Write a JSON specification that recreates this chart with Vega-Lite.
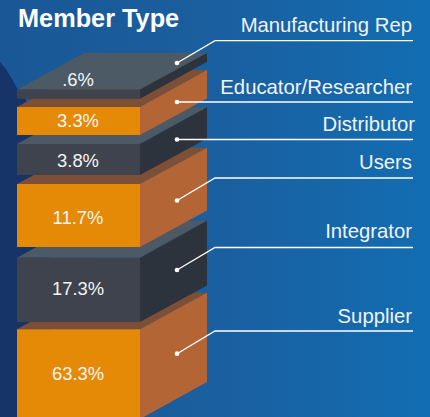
{"$schema":"https://vega.github.io/schema/vega-lite/v6.json","width":430,"height":417,"padding":0,"autosize":{"type":"fit","contains":"padding"},"config":{"view":{"stroke":null},"font":"Liberation Sans"},"datasets":{"faces":[
{"member":"Supplier","shade":"orange top","x":17,"top":329.3,"bottom":329.3},{"member":"Supplier","shade":"orange top","x":84,"top":292.7,"bottom":329.3},{"member":"Supplier","shade":"orange top","x":140,"top":292.7,"bottom":329.3},{"member":"Supplier","shade":"orange top","x":207,"top":292.7,"bottom":292.7},
{"member":"Supplier","shade":"orange side","x":140,"top":329.3,"bottom":419},{"member":"Supplier","shade":"orange side","x":207,"top":292.7,"bottom":382},
{"member":"Supplier","shade":"orange front","x":17,"top":329.3,"bottom":419},{"member":"Supplier","shade":"orange front","x":140,"top":329.3,"bottom":419},
{"member":"Integrator","shade":"dark top","x":17,"top":257.7,"bottom":257.7},{"member":"Integrator","shade":"dark top","x":84,"top":220.7,"bottom":257.7},{"member":"Integrator","shade":"dark top","x":140,"top":220.7,"bottom":257.7},{"member":"Integrator","shade":"dark top","x":207,"top":220.7,"bottom":220.7},
{"member":"Integrator","shade":"dark side","x":140,"top":257.7,"bottom":322},{"member":"Integrator","shade":"dark side","x":207,"top":220.7,"bottom":285.4},
{"member":"Integrator","shade":"dark front","x":17,"top":257.7,"bottom":322},{"member":"Integrator","shade":"dark front","x":140,"top":257.7,"bottom":322},
{"member":"Users","shade":"orange top","x":17,"top":184,"bottom":184},{"member":"Users","shade":"orange top","x":84,"top":147.7,"bottom":184},{"member":"Users","shade":"orange top","x":140,"top":147.7,"bottom":184},{"member":"Users","shade":"orange top","x":207,"top":147.7,"bottom":147.7},
{"member":"Users","shade":"orange side","x":140,"top":184,"bottom":247},{"member":"Users","shade":"orange side","x":207,"top":147.7,"bottom":210.5},
{"member":"Users","shade":"orange front","x":17,"top":184,"bottom":247},{"member":"Users","shade":"orange front","x":140,"top":184,"bottom":247},
{"member":"Distributor","shade":"dark top","x":17,"top":144,"bottom":144},{"member":"Distributor","shade":"dark top","x":84,"top":107.3,"bottom":144},{"member":"Distributor","shade":"dark top","x":140,"top":107.3,"bottom":144},{"member":"Distributor","shade":"dark top","x":207,"top":107.3,"bottom":107.3},
{"member":"Distributor","shade":"dark side","x":140,"top":144,"bottom":175},{"member":"Distributor","shade":"dark side","x":207,"top":107.3,"bottom":138.5},
{"member":"Distributor","shade":"dark front","x":17,"top":144,"bottom":175},{"member":"Distributor","shade":"dark front","x":140,"top":144,"bottom":175},
{"member":"Educator/Researcher","shade":"orange top","x":17,"top":107,"bottom":107},{"member":"Educator/Researcher","shade":"orange top","x":84,"top":70,"bottom":107},{"member":"Educator/Researcher","shade":"orange top","x":140,"top":70,"bottom":107},{"member":"Educator/Researcher","shade":"orange top","x":207,"top":70,"bottom":70},
{"member":"Educator/Researcher","shade":"orange side","x":140,"top":107,"bottom":135},{"member":"Educator/Researcher","shade":"orange side","x":207,"top":70,"bottom":98.5},
{"member":"Educator/Researcher","shade":"orange front","x":17,"top":107,"bottom":135},{"member":"Educator/Researcher","shade":"orange front","x":140,"top":107,"bottom":135},
{"member":"Manufacturing Rep","shade":"dark top","x":17,"top":89.5,"bottom":89.5},{"member":"Manufacturing Rep","shade":"dark top","x":84,"top":53,"bottom":89.5},{"member":"Manufacturing Rep","shade":"dark top","x":140,"top":53,"bottom":89.5},{"member":"Manufacturing Rep","shade":"dark top","x":207,"top":53,"bottom":53},
{"member":"Manufacturing Rep","shade":"dark side","x":140,"top":89.5,"bottom":98.7},{"member":"Manufacturing Rep","shade":"dark side","x":207,"top":53,"bottom":61.7},
{"member":"Manufacturing Rep","shade":"dark front","x":17,"top":89.5,"bottom":98.7},{"member":"Manufacturing Rep","shade":"dark front","x":140,"top":89.5,"bottom":98.7}
],"leaders":[
{"member":"Manufacturing Rep","x":177,"y":63},{"member":"Manufacturing Rep","x":215,"y":40.7},{"member":"Manufacturing Rep","x":413,"y":40.7},
{"member":"Educator/Researcher","x":177,"y":102},{"member":"Educator/Researcher","x":413,"y":102},
{"member":"Distributor","x":177,"y":139.5},{"member":"Distributor","x":413,"y":139.5},
{"member":"Users","x":177,"y":200.5},{"member":"Users","x":215,"y":178},{"member":"Users","x":413,"y":178},
{"member":"Integrator","x":177,"y":270},{"member":"Integrator","x":215,"y":247.5},{"member":"Integrator","x":413,"y":247.5},
{"member":"Supplier","x":177,"y":353.7},{"member":"Supplier","x":215,"y":331},{"member":"Supplier","x":413,"y":331}
],"members":[
{"member":"Manufacturing Rep","share":".6%","sx":78,"sy":80,"nx":412,"ny":25.5,"dx":177,"dy":63},
{"member":"Educator/Researcher","share":"3.3%","sx":78,"sy":121,"nx":412,"ny":88,"dx":177,"dy":102},
{"member":"Distributor","share":"3.8%","sx":78,"sy":161,"nx":415,"ny":125,"dx":177,"dy":139.5},
{"member":"Users","share":"11.7%","sx":78,"sy":218,"nx":412,"ny":163,"dx":177,"dy":200.5},
{"member":"Integrator","share":"17.3%","sx":78,"sy":289,"nx":412,"ny":231.5,"dx":177,"dy":270},
{"member":"Supplier","share":"63.3%","sx":78,"sy":374,"nx":412,"ny":317,"dx":177,"dy":353.7}
],"edge":[
{"x":0,"top":62,"bottom":417},{"x":6,"top":69,"bottom":417},{"x":12,"top":79,"bottom":417},{"x":17,"top":88,"bottom":417},{"x":26,"top":100,"bottom":417},{"x":40,"top":130,"bottom":417},{"x":50,"top":180,"bottom":417},{"x":52,"top":260,"bottom":417}
]},
"layer":[
{"data":{"values":[{}]},"mark":{"type":"rect","color":{"gradient":"linear","x1":0,"y1":0,"x2":1,"y2":0,"stops":[{"offset":0,"color":"#1a5796"},{"offset":0.5,"color":"#1a5f9f"},{"offset":1,"color":"#136db2"}]}},"encoding":{}},
{"data":{"name":"edge"},"mark":{"type":"area","color":"#173468","orient":"vertical"},"encoding":{"x":{"field":"x","type":"quantitative","scale":{"domain":[0,430],"nice":false,"zero":false},"axis":null},"y":{"field":"top","type":"quantitative","scale":{"domain":[417,0],"nice":false,"zero":false},"axis":null},"y2":{"field":"bottom"}}},
{"data":{"name":"faces"},"mark":{"type":"area","orient":"vertical","clip":true},"encoding":{"x":{"field":"x","type":"quantitative","scale":{"domain":[0,430],"nice":false,"zero":false},"axis":null},"y":{"field":"top","type":"quantitative","scale":{"domain":[417,0],"nice":false,"zero":false},"axis":null},"y2":{"field":"bottom"},"detail":{"field":"member"},"color":{"field":"shade","type":"nominal","legend":null,"scale":{"domain":["orange front","orange side","orange top","dark front","dark side","dark top"],"range":["#e58a06","#b36535","#7d4f37","#3e434e","#2d333d","#4c5a65"]}}}},
{"data":{"name":"leaders"},"mark":{"type":"line","color":"#ffffff","strokeWidth":1.3},"encoding":{"x":{"field":"x","type":"quantitative","scale":{"domain":[0,430],"nice":false,"zero":false},"axis":null},"y":{"field":"y","type":"quantitative","scale":{"domain":[417,0],"nice":false,"zero":false},"axis":null},"detail":{"field":"member"}}},
{"data":{"name":"members"},"mark":{"type":"point","filled":true,"color":"#ffffff","opacity":1,"size":22},"encoding":{"x":{"field":"dx","type":"quantitative","scale":{"domain":[0,430],"nice":false,"zero":false},"axis":null},"y":{"field":"dy","type":"quantitative","scale":{"domain":[417,0],"nice":false,"zero":false},"axis":null}}},
{"data":{"name":"members"},"mark":{"type":"text","color":"#f4f4f4","fontSize":18.4,"align":"center","baseline":"middle"},"encoding":{"x":{"field":"sx","type":"quantitative","scale":{"domain":[0,430],"nice":false,"zero":false},"axis":null},"y":{"field":"sy","type":"quantitative","scale":{"domain":[417,0],"nice":false,"zero":false},"axis":null},"text":{"field":"share"}}},
{"data":{"name":"members"},"mark":{"type":"text","color":"#f0f4f8","fontSize":20.3,"align":"right","baseline":"middle"},"encoding":{"x":{"field":"nx","type":"quantitative","scale":{"domain":[0,430],"nice":false,"zero":false},"axis":null},"y":{"field":"ny","type":"quantitative","scale":{"domain":[417,0],"nice":false,"zero":false},"axis":null},"text":{"field":"member"}}},
{"data":{"values":[{"title":"Member Type","x":18,"y":18.5}]},"mark":{"type":"text","color":"#ffffff","fontSize":25.3,"fontWeight":"bold","align":"left","baseline":"middle"},"encoding":{"x":{"field":"x","type":"quantitative","scale":{"domain":[0,430],"nice":false,"zero":false},"axis":null},"y":{"field":"y","type":"quantitative","scale":{"domain":[417,0],"nice":false,"zero":false},"axis":null},"text":{"field":"title"}}}
]}
